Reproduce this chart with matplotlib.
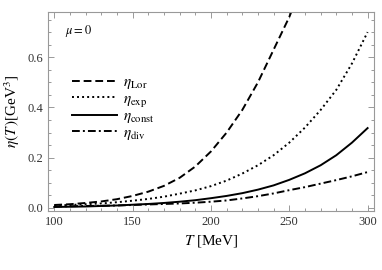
import numpy as np
import matplotlib
matplotlib.use('Agg')
import matplotlib.pyplot as plt
from matplotlib.ticker import MultipleLocator

plt.rcParams['font.family'] = ['Liberation Serif', 'DejaVu Serif']
plt.rcParams['mathtext.fontset'] = 'stix'

# temperatura em MeV
T = [100, 110, 120, 130, 140, 150, 160, 170, 180, 190, 200,
     210, 220, 230, 240, 250, 260, 270, 280, 290, 300]

# viscosidade eta(T) em GeV^3 para cada modelo
eta_lor = [0.012, 0.015, 0.020, 0.026, 0.035, 0.048, 0.065, 0.088, 0.120, 0.165, 0.225,
           0.300, 0.390, 0.500, 0.630, 0.760, 0.920, 1.100, 1.300, 1.520, 1.760]
eta_exp = [0.010, 0.012, 0.015, 0.018, 0.023, 0.029, 0.036, 0.045, 0.057, 0.070, 0.087,
           0.109, 0.137, 0.170, 0.210, 0.260, 0.320, 0.390, 0.470, 0.575, 0.700]
eta_const = [0.004, 0.005, 0.006, 0.008, 0.010, 0.013, 0.016, 0.020, 0.025, 0.031, 0.039,
             0.048, 0.059, 0.073, 0.090, 0.112, 0.138, 0.170, 0.210, 0.260, 0.318]
eta_div = [0.006, 0.007, 0.008, 0.009, 0.010, 0.012, 0.014, 0.016, 0.018, 0.021, 0.025,
           0.030, 0.038, 0.047, 0.058, 0.071, 0.083, 0.097, 0.111, 0.126, 0.143]

fig = plt.figure(figsize=(3.82, 2.70), dpi=100)
ax = fig.add_axes([0.1257, 0.2185, 0.853, 0.737])

lw = 1.4
ax.plot(T, eta_lor, color='black', lw=lw, dashes=(4, 2), label=r'$\eta_{\rm Lor}$')
ax.plot(T, eta_exp, color='black', lw=lw, dashes=(1, 1.6), label=r'$\eta_{\rm exp}$')
ax.plot(T, eta_const, color='black', lw=lw, label=r'$\eta_{\rm const}$')
ax.plot(T, eta_div, color='black', lw=lw, dashes=(4, 1.6, 1, 1.6), label=r'$\eta_{\rm div}$')

ax.set_xlim(96, 304)
ax.set_ylim(-0.012, 0.78)
ax.xaxis.set_major_locator(MultipleLocator(50))
ax.xaxis.set_minor_locator(MultipleLocator(10))
ax.yaxis.set_major_locator(MultipleLocator(0.2))
ax.yaxis.set_minor_locator(MultipleLocator(0.05))
ax.yaxis.set_major_formatter(matplotlib.ticker.FormatStrFormatter('%.1f'))

for s in ax.spines.values():
    s.set_color('#999999')
    s.set_linewidth(0.8)
ax.tick_params(which='both', direction='in', top=True, right=True, color='#999999',
               labelsize=9, labelcolor='#333333', width=0.7)
ax.tick_params(which='major', length=4)
ax.tick_params(which='minor', length=2)

ax.set_xlabel(r'$T$ [MeV]', fontsize=11)
ax.set_ylabel(r'$\eta(T\,)$[GeV$^3$]', fontsize=11, labelpad=4)

ax.text(0.053, 0.89, r'$\mu = 0$', transform=ax.transAxes, fontsize=9)
ax.legend(loc='upper left', bbox_to_anchor=(0.03, 0.75), frameon=False, fontsize=11,
          handlelength=3.0, labelspacing=0.05, handletextpad=0.4)

plt.savefig('out.png', dpi=100)
